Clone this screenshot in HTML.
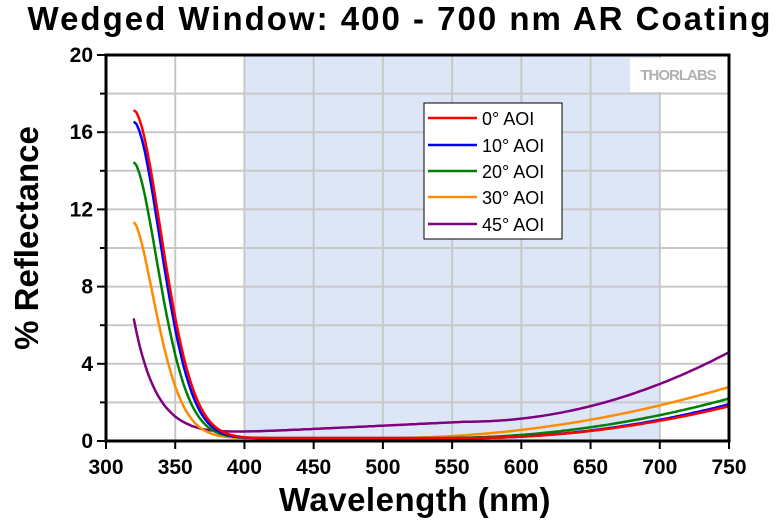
<!DOCTYPE html><html><head><style>body{margin:0;background:#fff}svg{display:block;font-family:"Liberation Sans",Arial,sans-serif}</style></head><body>
<svg id="s" width="780" height="522" xmlns="http://www.w3.org/2000/svg">
<text x="400" y="30" text-anchor="middle" font-size="33" font-weight="bold" letter-spacing="2">Wedged Window: 400 - 700 nm AR Coating</text>
<rect x="244" y="55" width="416" height="386" fill="#dde6f6"/>
<g id="grid" stroke="#c8c8c8" stroke-width="2"></g>
<rect x="630" y="58" width="96" height="34" fill="#fff"/>
<text x="678" y="80" text-anchor="middle" font-size="15" font-weight="bold" fill="#b0b0b0" letter-spacing="-1">THORLABS</text>
<g id="curves" fill="none" stroke-width="2.5"></g>
<rect x="106" y="55" width="623" height="386" fill="none" stroke="#000" stroke-width="3"/>
<g id="ticks" stroke="#000" stroke-width="2"></g>
<g id="labels" font-size="21" font-weight="bold"></g>
<text x="415" y="511" text-anchor="middle" font-size="33" font-weight="bold" letter-spacing="0.5">Wavelength (nm)</text>
<text transform="translate(38,238) rotate(-90)" text-anchor="middle" font-size="33" font-weight="bold">% Reflectance</text>
<g>
<rect x="424" y="103" width="138" height="136" fill="#fff" stroke="#000" stroke-width="1"/>
<g stroke-width="2.5">
<line x1="428" y1="118" x2="477" y2="118" stroke="#ff0000"/>
<line x1="428" y1="145" x2="477" y2="145" stroke="#0000ff"/>
<line x1="428" y1="171" x2="477" y2="171" stroke="#008000"/>
<line x1="428" y1="197" x2="477" y2="197" stroke="#ff8c00"/>
<line x1="428" y1="224" x2="477" y2="224" stroke="#800080"/>
</g>
<g font-size="18">
<text x="482" y="125">0° AOI</text>
<text x="482" y="152">10° AOI</text>
<text x="482" y="178">20° AOI</text>
<text x="482" y="204">30° AOI</text>
<text x="482" y="231">45° AOI</text>
</g></g>
</svg>
<script>
const X=l=>106+(l-300)*623/450, Y=r=>441-r*386/20, ns="http://www.w3.org/2000/svg";
function el(p,t,a){const e=document.createElementNS(ns,t);for(const k in a)e.setAttribute(k,a[k]);document.getElementById(p).appendChild(e);return e;}
for(let l=350;l<750;l+=50)el("grid","line",{x1:X(l),x2:X(l),y1:55,y2:441});
for(let r=2;r<20;r+=2)el("grid","line",{x1:106,x2:729,y1:Y(r),y2:Y(r)});
for(let l=300;l<=750;l+=50){el("ticks","line",{x1:X(l),x2:X(l),y1:441,y2:449});el("labels","text",{x:X(l),y:474,"text-anchor":"middle"}).textContent=l;}
for(let r=0;r<=20;r+=2){el("ticks","line",{x1:r%4?100:97,x2:106,y1:Y(r),y2:Y(r)});if(r%4==0){el("labels","text",{x:93,y:Y(r)+7,"text-anchor":"end"}).textContent=r;}}
const S=[["#800080",6,16,1.0,4.6,1],["#ff8c00",11.2,24,1.6,2.8,0],["#008000",14.3,27,1.7,2.2,0],["#0000ff",16.4,29,1.8,1.9,0],["#ff0000",17,30,1.8,1.8,0]];
for(const [c,A,s,p,E,pu] of S){let d="";for(let l=320;l<=750;l+=2){let b;if(pu){b=l<560?0.35+0.65*Math.max(0,l-370)/190:1+3.6*((l-560)/190)**2;}else{const st=E>2.5?500:(E>2?540:560);b=0.15+(l>st?(E-0.15)*((l-st)/(750-st))**2:0);}const r=A*Math.exp(-Math.pow((l-320)/s,p))+b;d+=(d?"L":"M")+X(l).toFixed(1)+","+Y(r).toFixed(1);}el("curves","path",{d:d,stroke:c});}
</script>
</body></html>
